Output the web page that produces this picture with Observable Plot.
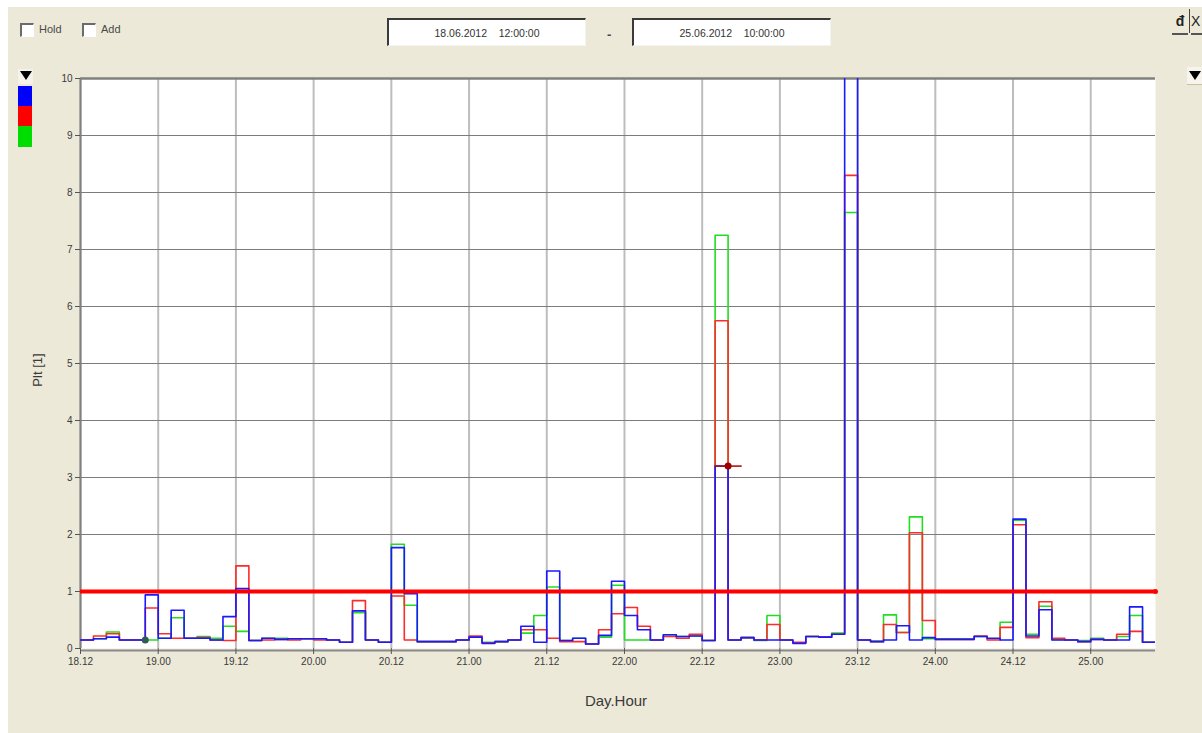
<!DOCTYPE html>
<html>
<head>
<meta charset="utf-8">
<script src="https://cdn.jsdelivr.net/npm/d3@7"></script>
<script src="https://cdn.jsdelivr.net/npm/@observablehq/plot@0.6"></script>
<style>
  html, body { margin: 0; padding: 0; background: #ffffff; }
  body { width: 1202px; height: 733px; position: relative; overflow: hidden; font-family: "Liberation Sans", Arial, sans-serif; }
  #panel { position: absolute; left: 8px; top: 7px; width: 1194px; height: 726px; background: #ECE9D8; }
  .abs { position: absolute; }
  .chk { position: absolute; width: 11px; height: 11px; background: #fff; border-top: 2px solid #6b6b6b; border-left: 2px solid #6b6b6b; border-bottom: 1px solid #fff; border-right: 1px solid #fff; }
  .lbl { position: absolute; font-size: 11px; color: #4a4a4a; }
  .datebox { position: absolute; width: 196px; height: 25px; background: #fff; border-top: 2px solid #3a3a3a; border-left: 2px solid #3a3a3a; border-bottom: 1px solid #f4f4f4; border-right: 1px solid #f4f4f4; font-size: 10.5px; color: #333; text-align: center; line-height: 27px; white-space: pre; }
  #chart { position: absolute; left: 0; top: 60px; }
  #ylabel { position: absolute; left: 37px; top: 370px; transform: translate(-50%, -50%) rotate(-90deg); font-size: 13px; color: #3a3a3a; white-space: nowrap; }
  #xlabel { position: absolute; left: 616px; top: 700px; transform: translate(-50%, -50%); font-size: 15px; color: #3a3a3a; white-space: nowrap; }
</style>
</head>
<body>
<div id="panel"></div>
<div class="chk" style="left:20px; top:23px;"></div>
<div class="lbl" style="left:39px; top:23px;">Hold</div>
<div class="chk" style="left:82px; top:23px;"></div>
<div class="lbl" style="left:101px; top:23px;">Add</div>
<div class="datebox" style="left:387px; top:18px;">18.06.2012    12:00:00</div>
<div class="lbl" style="left:607px; top:27px; font-size:13px; font-weight:bold;">-</div>
<div class="datebox" style="left:632px; top:18px;">25.06.2012    10:00:00</div>
<!-- left legend colour swatches -->
<div class="abs" style="left:18px; top:69px; width:15px; height:15px; background:#f4f2ea;"></div>
<div class="abs" style="left:20px; top:71px; width:0; height:0; border-left:6px solid transparent; border-right:6px solid transparent; border-top:9px solid #000;"></div>
<div class="abs" style="left:18px; top:86px; width:14px; height:20px; background:#0000ff;"></div>
<div class="abs" style="left:18px; top:106px; width:14px; height:20px; background:#ff0000;"></div>
<div class="abs" style="left:18px; top:126px; width:14px; height:21px; background:#00dd00;"></div>
<!-- top right buttons -->
<div class="abs" style="left:1172px; top:9px; width:16px; height:24px; border-bottom:2px solid #555; font-size:14px; font-weight:bold; color:#222; text-align:center; line-height:24px;">&#x0111;</div>
<div class="abs" style="left:1189px; top:9px; width:1px; height:24px; background:#444;"></div>
<div class="abs" style="left:1191px; top:9px; width:11px; height:24px; border-bottom:2px solid #555; font-size:14px; color:#222; line-height:24px; overflow:hidden;">X</div>
<div class="abs" style="left:1187px; top:67px; width:15px; height:17px; background:#f6f4ec; border-bottom:1px solid #c8c0a0;"></div>
<div class="abs" style="left:1189px; top:71px; width:0; height:0; border-left:6px solid transparent; border-right:6px solid transparent; border-top:9px solid #000;"></div>
<div id="chart"></div>
<div id="ylabel">Plt [1]</div>
<div id="xlabel">Day.Hour</div>
<script>
// ---- data (2-hour Plt values, interval start = 18.06.2012 12:00 + i*2h) ----
const seriesNames = ["green", "red", "blue"];
const blueValues = [
  0.15, 0.17, 0.20, 0.15, 0.15, 0.94, 0.18, 0.67, 0.18, 0.18,
  0.15, 0.56, 1.05, 0.14, 0.18, 0.16, 0.17, 0.17, 0.17, 0.15,
  0.11, 0.66, 0.15, 0.11, 1.77, 0.96, 0.12, 0.12, 0.12, 0.15,
  0.20, 0.09, 0.12, 0.15, 0.39, 0.11, 1.36, 0.14, 0.18, 0.08,
  0.23, 1.18, 0.58, 0.33, 0.15, 0.24, 0.21, 0.22, 0.14, 3.20,
  0.15, 0.19, 0.15, 0.15, 0.15, 0.09, 0.21, 0.20, 0.25, 12.5,
  0.15, 0.12, 0.15, 0.40, 0.15, 0.19, 0.16, 0.16, 0.16, 0.21,
  0.18, 0.15, 2.27, 0.22, 0.68, 0.15, 0.15, 0.12, 0.16, 0.15,
  0.15, 0.73, 0.11
];
const redValues = [
  0.15, 0.22, 0.26, 0.15, 0.15, 0.71, 0.26, 0.18, 0.18, 0.19,
  0.15, 0.14, 1.45, 0.14, 0.15, 0.16, 0.15, 0.17, 0.15, 0.15,
  0.11, 0.84, 0.15, 0.11, 0.92, 0.15, 0.12, 0.12, 0.12, 0.15,
  0.22, 0.10, 0.12, 0.15, 0.33, 0.33, 0.18, 0.12, 0.12, 0.08,
  0.33, 0.61, 0.72, 0.39, 0.15, 0.21, 0.18, 0.25, 0.14, 5.75,
  0.15, 0.19, 0.15, 0.42, 0.15, 0.11, 0.21, 0.20, 0.25, 8.30,
  0.15, 0.12, 0.42, 0.28, 2.03, 0.49, 0.16, 0.16, 0.16, 0.22,
  0.15, 0.37, 2.17, 0.19, 0.82, 0.18, 0.15, 0.12, 0.16, 0.15,
  0.25, 0.30, 0.11
];
const greenValues = [
  0.15, 0.17, 0.29, 0.15, 0.15, 0.15, 0.18, 0.54, 0.18, 0.21,
  0.18, 0.39, 0.30, 0.14, 0.18, 0.18, 0.17, 0.17, 0.17, 0.15,
  0.11, 0.63, 0.15, 0.11, 1.83, 0.76, 0.12, 0.12, 0.12, 0.15,
  0.20, 0.11, 0.12, 0.15, 0.27, 0.58, 1.08, 0.14, 0.18, 0.08,
  0.20, 1.11, 0.15, 0.15, 0.15, 0.24, 0.21, 0.22, 0.14, 7.25,
  0.15, 0.19, 0.14, 0.58, 0.15, 0.10, 0.21, 0.20, 0.27, 7.65,
  0.15, 0.13, 0.59, 0.28, 2.31, 0.17, 0.17, 0.17, 0.17, 0.21,
  0.17, 0.46, 2.25, 0.25, 0.74, 0.16, 0.15, 0.14, 0.18, 0.15,
  0.21, 0.58, 0.11
];
const limitValue = [1];
const xTickLabels = ["18.12","19.00","19.12","20.00","20.12","21.00","21.12",
                     "22.00","22.12","23.00","23.12","24.00","24.12","25.00"];
const yTicks = [0,1,2,3,4,5,6,7,8,9,10];
const startLabel = "18.06.2012 12:00";
const endLabel = "25.06.2012 10:00";
const cursorHour = [100];   // hours after start
const cursorValue = [3.2];
const markHour = [10];
const markValue = [0.15];

// ---- build tables ----
const H = 3600 * 1000;
function parseDT(s) {
  const [d, t] = s.split(" ");
  const [dd, mm, yy] = d.split(".").map(Number);
  const [hh, mi] = t.split(":").map(Number);
  return new Date(Date.UTC(yy, mm - 1, dd, hh, mi));
}
const t0 = parseDT(startLabel);
const t1 = parseDT(endLabel);
const xTicks = xTickLabels.map(l => {
  const [d, h] = l.split(".").map(Number);
  return new Date(Date.UTC(2012, 5, d, h));
});
function rows(vals) {
  const r = vals.map((v, i) => ({t: new Date(+t0 + i * 2 * H), v}));
  r.push({t: t1, v: vals[vals.length - 1]});
  return r;
}
const colors = {green: "#22dd22", red: "#ff2a2a", blue: "#1a1aff"};
const valuesBy = {green: greenValues, red: redValues, blue: blueValues};
const cursor = cursorHour.map((h, i) => ({t: new Date(+t0 + h * H), v: cursorValue[i], ta: new Date(+t0 + (h - 2.1) * H), tb: new Date(+t0 + (h + 2.1) * H)}));
const marks2 = markHour.map((h, i) => ({t: new Date(+t0 + h * H), v: markValue[i]}));

const chart = Plot.plot({
  width: 1180,
  height: 660,
  marginLeft: 80,
  marginTop: 18,
  marginRight: 25,
  marginBottom: 72,
  style: {background: "transparent", fontFamily: "Liberation Sans, Arial, sans-serif", fontSize: "10px", color: "#3a3a3a", overflow: "visible"},
  x: {type: "utc", domain: [t0, t1]},
  y: {domain: [0, 10]},
  marks: [
    Plot.frame({fill: "white", stroke: "none"}),
    Plot.gridX(xTicks, {stroke: "#bdbdbd", strokeWidth: 2, strokeOpacity: 1}),
    Plot.gridY(yTicks.slice(1), {stroke: "#7c7c7c", strokeWidth: 1.2, strokeOpacity: 1}),
    Plot.ruleY([10], {stroke: "#808080", strokeWidth: 2.5}),
    Plot.ruleX([t0], {stroke: "#808080", strokeWidth: 2}),
    Plot.ruleY([0], {stroke: "#8a8a8a", strokeWidth: 2, dy: 2}),
    Plot.axisX(xTicks, {tickFormat: (d, i) => xTickLabels[i], tickSize: 6, tickPadding: 3, label: null, stroke: "#555", fill: "#3a3a3a", fontSize: 10}),
    Plot.axisY(yTicks, {tickFormat: d => String(d), tickSize: 5, tickPadding: 3, label: null, stroke: "#555", fill: "#3a3a3a", fontSize: 10}),
    ...seriesNames.map(s => Plot.line(rows(valuesBy[s]), {x: "t", y: "v", curve: "step-after", stroke: colors[s], strokeWidth: 1.6, strokeOpacity: 1, clip: true})),
    Plot.ruleY(limitValue, {stroke: "#ff0000", strokeWidth: 4}),
    Plot.dot(limitValue.map(v => ({t: t1, v})), {x: "t", y: "v", r: 2.5, fill: "#ff0000"}),
    Plot.link(cursor, {x1: "ta", x2: "tb", y1: "v", y2: "v", stroke: "#b01010", strokeWidth: 1.6}),
    Plot.dot(cursor, {x: "t", y: "v", r: 3.5, fill: "#990000"}),
    Plot.dot(marks2, {x: "t", y: "v", r: 3.5, fill: "#2f5a55"})
  ]
});
document.getElementById("chart").appendChild(chart);
</script>
</body>
</html>
